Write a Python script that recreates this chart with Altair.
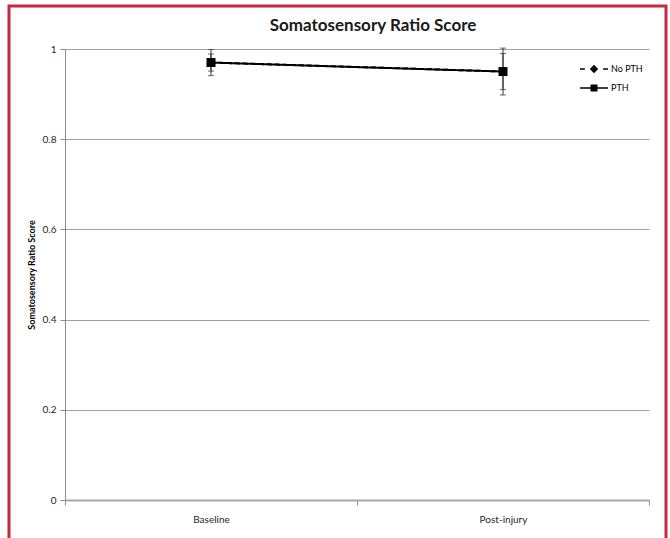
import altair as alt
import pandas as pd

# Group means and error-bar half widths per time point
categories = ["Baseline", "Post-injury"]
series_names = ["No PTH", "PTH"]
no_pth_mean = [0.97, 0.95]
no_pth_err = [0.019, 0.04]
pth_mean = [0.97, 0.95]
pth_err = [0.029, 0.052]

rows = []
for name, means, errs in [("No PTH", no_pth_mean, no_pth_err), ("PTH", pth_mean, pth_err)]:
    for cat, m, e in zip(categories, means, errs):
        rows.append({"series": name, "time": cat, "mean": m, "lo": m - e, "hi": m + e})
df = pd.DataFrame(rows)

FONT = "Lato"
W, H = 584, 451
PAD = {"left": 65, "top": 49, "right": 21, "bottom": 38}

x_enc = alt.X(
    "time:N",
    sort=categories,
    scale=alt.Scale(type="band", paddingInner=0, paddingOuter=0),
    axis=alt.Axis(
        title=None, labelAngle=0, tickBand="extent", tickSize=5, tickColor="#8c8c8c",
        domainColor="#a6a6a6", domainWidth=2, labelPadding=9, labelFontSize=10,
        labelColor="#262626", labelFont=FONT,
    ),
)
y_scale = alt.Scale(domain=[0, 1])

base = alt.Chart(df)

# Decorative frame around the whole figure
frame = base.mark_rect(fill=None, stroke="#c62a3f", strokeWidth=3).encode(
    x=alt.value(-56), x2=alt.value(601), y=alt.value(-43), y2=alt.value(520)
).transform_filter("datum.series == 'PTH' && datum.time == 'Baseline'")

err_rules = base.mark_rule(color="#333333", strokeWidth=1).encode(
    x=x_enc,
    y=alt.Y("lo:Q", scale=y_scale,
            axis=alt.Axis(
                title="Somatosensory Ratio Score", values=[0, 0.2, 0.4, 0.6, 0.8, 1],
                format="~g", grid=True, gridColor="#a0a0a0", gridWidth=1,
                domainColor="#8c8c8c", tickColor="#8c8c8c", tickSize=5,
                labelPadding=4, labelFontSize=10, labelColor="#262626", labelFont=FONT,
                titleFont=FONT, titleFontSize=9, titleFontWeight="bold",
                titleColor="#000000", titleX=-34, titleY=H / 2, titleAngle=-90,
                titleAlign="center", titleBaseline="middle",
            )),
    y2="hi:Q",
)
cap_lo = base.mark_tick(color="#333333", thickness=1, size=6, orient="horizontal").encode(
    x=x_enc, y=alt.Y("lo:Q", scale=y_scale)
)
cap_hi = base.mark_tick(color="#333333", thickness=1, size=6, orient="horizontal").encode(
    x=x_enc, y=alt.Y("hi:Q", scale=y_scale)
)

lines = base.mark_line(color="black", strokeWidth=2).encode(
    x=x_enc,
    y=alt.Y("mean:Q", scale=y_scale),
    strokeDash=alt.StrokeDash(
        "series:N",
        scale=alt.Scale(domain=series_names, range=[[5, 3], [1, 0]]),
        legend=None,
    ),
)

points = base.mark_point(filled=True, color="black", opacity=1).encode(
    x=x_enc,
    y=alt.Y("mean:Q", scale=y_scale),
    shape=alt.Shape(
        "series:N",
        scale=alt.Scale(domain=series_names, range=["diamond", "square"]),
        legend=None,
    ),
    size=alt.Size(
        "series:N",
        scale=alt.Scale(domain=series_names, range=[70, 81]),
        legend=None,
    ),
)

# Legend symbols: marker with line segments on either side
no_pth_symbol = ("M-2,-0.12H-1.3V0.12H-2Z M1.3,-0.12H2V0.12H1.3Z "
                 "M0,-0.6L0.6,0L0,0.6L-0.6,0Z")
pth_symbol = "M-2,-0.12H2V0.12H-2Z M-0.5,-0.5H0.5V0.5H-0.5Z"

legend_layer = base.mark_point(filled=True, color="black", opacity=1).encode(
    x=x_enc,
    y=alt.Y("mean:Q", scale=y_scale),
    shape=alt.Shape(
        "series:N",
        scale=alt.Scale(domain=series_names, range=[no_pth_symbol, pth_symbol]),
        legend=alt.Legend(
            title=None, orient="none", legendX=522, legendY=13, padding=0,
            rowPadding=7, symbolSize=196, labelOffset=10, labelFontSize=9,
            labelFont=FONT, labelColor="#000000", symbolFillColor="black",
            symbolStrokeWidth=0, symbolOpacity=1,
        ),
    ),
).transform_filter("datum.series == 'none'")

chart = (
    alt.layer(frame, err_rules, cap_lo, cap_hi, lines, points, legend_layer)
    .resolve_scale(shape="independent")
    .properties(
        width=W,
        height=H,
        autosize=alt.AutoSizeParams(type="none"),
        padding=PAD,
        background="white",
        title=alt.TitleParams(
            "Somatosensory Ratio Score", font=FONT, fontSize=17, fontWeight="bold",
            color="#1a1a1a", anchor="middle", dx=16, offset=19, dy=62.5,
            baseline="alphabetic",
        ),
    )
    .configure_view(stroke=None)
)

chart.save("out.html", embed_options={"renderer": "svg", "actions": False})
